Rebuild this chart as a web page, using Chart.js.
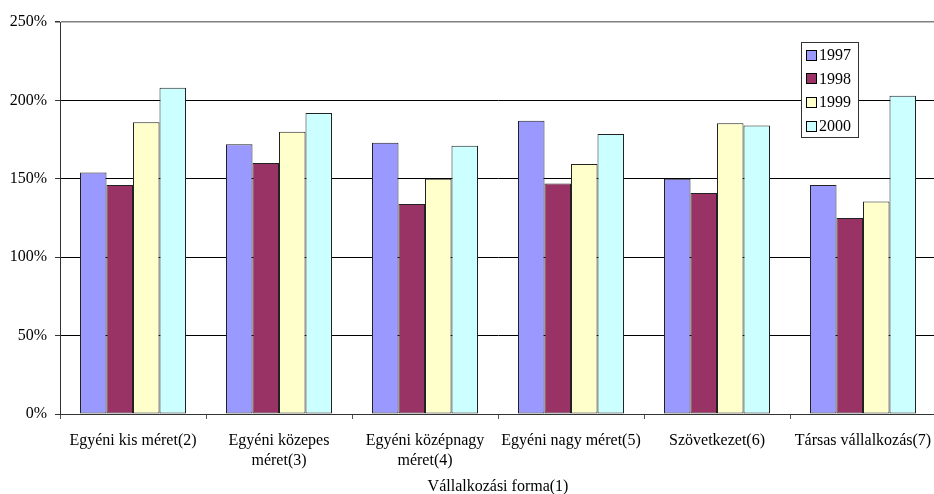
<!DOCTYPE html>
<html>
<head>
<meta charset="utf-8">
<script src="https://cdn.jsdelivr.net/npm/chart.js@4/dist/chart.umd.min.js"></script>
<style>
  html, body { margin: 0; padding: 0; background: #fff; overflow: hidden; }
  #wrap { width: 934px; height: 494px; overflow: hidden; }
  canvas { display: block; }
</style>
</head>
<body>
<div id="wrap"><canvas id="c" width="940" height="494"></canvas></div>
<script>
// Categories (business forms) and yearly index values in percent
const categories = [
  ["Egyéni kis méret(2)"],
  ["Egyéni közepes", "méret(3)"],
  ["Egyéni középnagy", "méret(4)"],
  ["Egyéni nagy méret(5)"],
  ["Szövetkezet(6)"],
  ["Társas vállalkozás(7)"]
];
const years = ["1997", "1998", "1999", "2000"];
const values1997 = [154, 172, 173, 187, 150, 146];
const values1998 = [146, 160, 134, 147, 141, 125];
const values1999 = [186, 180, 150, 159.5, 185.5, 135.5];
const values2000 = [208, 192, 171, 178.5, 184, 203];
const yTicks = [0, 50, 100, 150, 200, 250];
const xTitle = "Vállalkozási forma(1)";

const seriesValues = [values1997, values1998, values1999, values2000];
const fills = ["#9999FF", "#993366", "#FFFFCC", "#CCFFFF"];

Chart.defaults.font.family = "'Liberation Serif', 'Times New Roman', serif";
Chart.defaults.font.size = 16;
Chart.defaults.color = "#000";

// Boxed legend placed in the upper right of the plot
const boxLegend = {
  id: "boxLegend",
  afterDraw(chart) {
    const ctx = chart.ctx;
    const x0 = 801, y0 = 42, w = 57, h = 95;
    ctx.save();
    ctx.fillStyle = "#fff";
    ctx.fillRect(x0, y0, w, h);
    ctx.strokeStyle = "#333";
    ctx.lineWidth = 1;
    ctx.strokeRect(x0 + 0.5, y0 + 0.5, w, h);
    ctx.font = "16px 'Liberation Serif', serif";
    ctx.textBaseline = "middle";
    ctx.fillStyle = "#000";
    chart.data.datasets.forEach((ds, i) => {
      const cy = 54.5 + i * 23.8;
      ctx.fillStyle = ds.backgroundColor;
      ctx.fillRect(806, Math.round(cy - 5), 10, 10);
      ctx.strokeStyle = "#000";
      ctx.strokeRect(806.5, Math.round(cy - 5) + 0.5, 10, 10);
      ctx.fillStyle = "#000";
      ctx.fillText(ds.label, 819, cy + 1);
    });
    ctx.restore();
  }
};

new Chart(document.getElementById("c"), {
  type: "bar",
  data: {
    labels: categories,
    datasets: years.map((y, i) => ({
      label: y,
      data: seriesValues[i],
      backgroundColor: fills[i],
      borderColor: "#222",
      borderWidth: 1,
      borderSkipped: false,
      categoryPercentage: 0.726,
      barPercentage: 1
    }))
  },
  options: {
    responsive: false,
    animation: false,
    layout: { padding: { top: 22, right: 4, left: 0, bottom: 0 } },
    plugins: {
      legend: { display: false },
      tooltip: { enabled: false }
    },
    scales: {
      x: {
        grid: {
          offset: true,
          drawOnChartArea: false,
          drawTicks: true,
          tickLength: 5,
          tickColor: "#555"
        },
        border: { color: "#333", width: 1 },
        ticks: { padding: 12, maxRotation: 0, autoSkip: false, font: { size: 16, lineHeight: 1.25 } },
        title: {
          display: true,
          text: xTitle,
          font: { size: 16, lineHeight: 0.875 },
          padding: { top: 0, bottom: 0 }
        },
        afterFit(scale) {
          scale.height = 80;
          scale.paddingLeft = 0;
          scale.paddingRight = 0;
        }
      },
      y: {
        min: 0,
        max: 250,
        afterBuildTicks(scale) { scale.ticks = yTicks.map(v => ({ value: v })); },
        grid: {
          color: ctx => (ctx.tick && ctx.tick.value === 250 ? "#808080" : "#000"),
          lineWidth: ctx => (ctx.tick && ctx.tick.value === 250 ? 1.5 : 1),
          tickLength: 5,
          tickColor: "#333"
        },
        border: { color: "#333", width: 1 },
        ticks: {
          padding: 8,
          callback: v => v + "%"
        },
        afterFit(scale) {
          scale.width = 60;
          scale.paddingTop = 0;
          scale.paddingBottom = 0;
        }
      }
    }
  },
  plugins: [boxLegend]
});
</script>
</body>
</html>
